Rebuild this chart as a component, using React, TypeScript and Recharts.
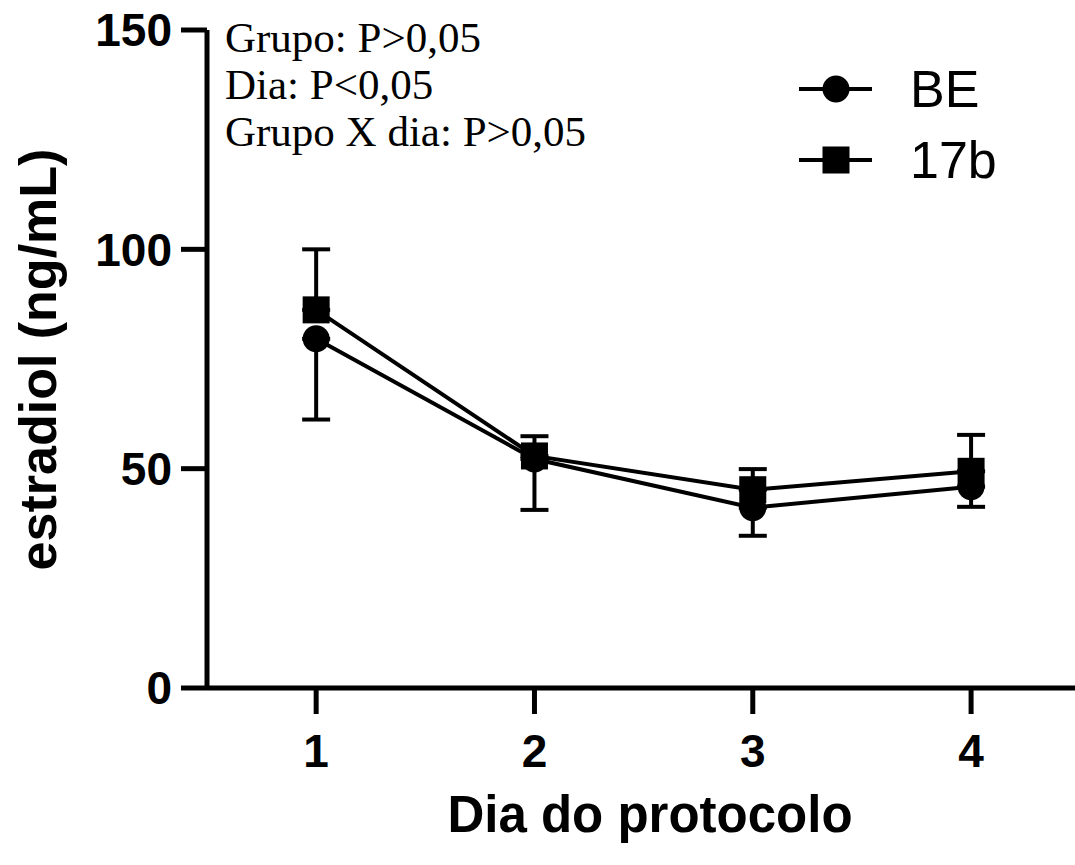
import React from 'react';
import { LineChart, Line, XAxis, YAxis, ErrorBar, Legend, Customized } from 'recharts';

const days = [1, 2, 3, 4];
const beMean = [79.6, 52.2, 41.1, 45.9];
const beErrLower = [18.4, 11.6, 6.4, 4.6];
const b17Mean = [86.2, 52.9, 45.2, 49.4];
const b17ErrUpper = [13.8, 4.5, 4.7, 8.3];
const yTicks = [0, 50, 100, 150];
const xTicks = [1, 2, 3, 4];
const statsLines = ['Grupo: P>0,05', 'Dia: P<0,05', 'Grupo X dia: P>0,05'];
const seriesNames = ['BE', '17b'];

const data = days.map((d, i) => ({
  day: d,
  be: beMean[i],
  beErr: [beErrLower[i], 0],
  b17: b17Mean[i],
  b17Err: [0, b17ErrUpper[i]],
}));

const SANS = '"Liberation Sans", Arial, sans-serif';
const SERIF = '"Liberation Serif", "Times New Roman", serif';

const CircleDot = (props: any) => {
  const { cx, cy } = props;
  if (cx == null || cy == null) return null;
  return <circle cx={cx} cy={cy} r={13.5} fill="#000" />;
};

const SquareDot = (props: any) => {
  const { cx, cy } = props;
  if (cx == null || cy == null) return null;
  return <rect x={cx - 13.5} y={cy - 13.5} width={27} height={27} fill="#000" />;
};

const StatsText = () => (
  <g>
    {statsLines.map((t, i) => (
      <text key={i} x={225} y={52 + i * 47} fontFamily={SERIF} fontSize={43} fill="#000">
        {t}
      </text>
    ))}
  </g>
);

const LegendContent = () => (
  <svg width={280} height={150} style={{ display: 'block' }}>
    <line x1={9} y1={39} x2={82} y2={39} stroke="#000" strokeWidth={4} />
    <circle cx={46} cy={39} r={13.5} fill="#000" />
    <text x={120} y={57} fontFamily={SANS} fontSize={52} fill="#000">{seriesNames[0]}</text>
    <line x1={9} y1={110} x2={82} y2={110} stroke="#000" strokeWidth={4} />
    <rect x={32.5} y={96.5} width={27} height={27} fill="#000" />
    <text x={120} y={128} fontFamily={SANS} fontSize={52} fill="#000">{seriesNames[1]}</text>
  </svg>
);

const YLabel = () => (
  <text
    x={56}
    y={359.5}
    transform="rotate(-90, 56, 359.5)"
    textAnchor="middle"
    fontFamily={SANS}
    fontWeight={700}
    fontSize={52}
    fill="#000"
  >
    estradiol (ng/mL)
  </text>
);

const XLabel = () => (
  <text x={650} y={832} textAnchor="middle" fontFamily={SANS} fontWeight={700} fontSize={51} fill="#000">
    Dia do protocolo
  </text>
);

export default function App() {
  return (
    <div style={{ position: 'absolute', left: 0, top: 0, width: 1075, height: 865, background: '#fff' }}>
      <LineChart width={1075} height={865} data={data} margin={{ top: 30, right: 0, bottom: 0, left: 0 }}>
        <XAxis
          type="number"
          dataKey="day"
          domain={[0.5, 4.476]}
          ticks={xTicks}
          allowDataOverflow
          height={177}
          tickSize={26}
          tickMargin={20}
          axisLine={{ stroke: '#000', strokeWidth: 5 }}
          tickLine={{ stroke: '#000', strokeWidth: 5 }}
          tick={{ fill: '#000', fontSize: 46, fontWeight: 700, fontFamily: SANS }}
          label={{ content: XLabel }}
        />
        <YAxis
          type="number"
          domain={[0, 150]}
          ticks={yTicks}
          width={207}
          tickSize={26}
          tickMargin={9}
          axisLine={{ stroke: '#000', strokeWidth: 5 }}
          tickLine={{ stroke: '#000', strokeWidth: 5 }}
          tick={{ fill: '#000', fontSize: 46, fontWeight: 700, fontFamily: SANS }}
          label={{ content: YLabel }}
        />
        <Legend
          layout="vertical"
          align="center"
          verticalAlign="middle"
          content={LegendContent}
          wrapperStyle={{ position: 'absolute', left: 790, top: 50, width: 280, height: 150 }}
        />
        <Line
          dataKey="be"
          name={seriesNames[0]}
          stroke="#000"
          strokeWidth={4}
          dot={CircleDot}
          activeDot={false}
          isAnimationActive={false}
        >
          <ErrorBar dataKey="beErr" direction="y" width={14} stroke="#000" strokeWidth={4} />
        </Line>
        <Line
          dataKey="b17"
          name={seriesNames[1]}
          stroke="#000"
          strokeWidth={4}
          dot={SquareDot}
          activeDot={false}
          isAnimationActive={false}
        >
          <ErrorBar dataKey="b17Err" direction="y" width={14} stroke="#000" strokeWidth={4} />
        </Line>
        <Customized component={StatsText} />
      </LineChart>
    </div>
  );
}
